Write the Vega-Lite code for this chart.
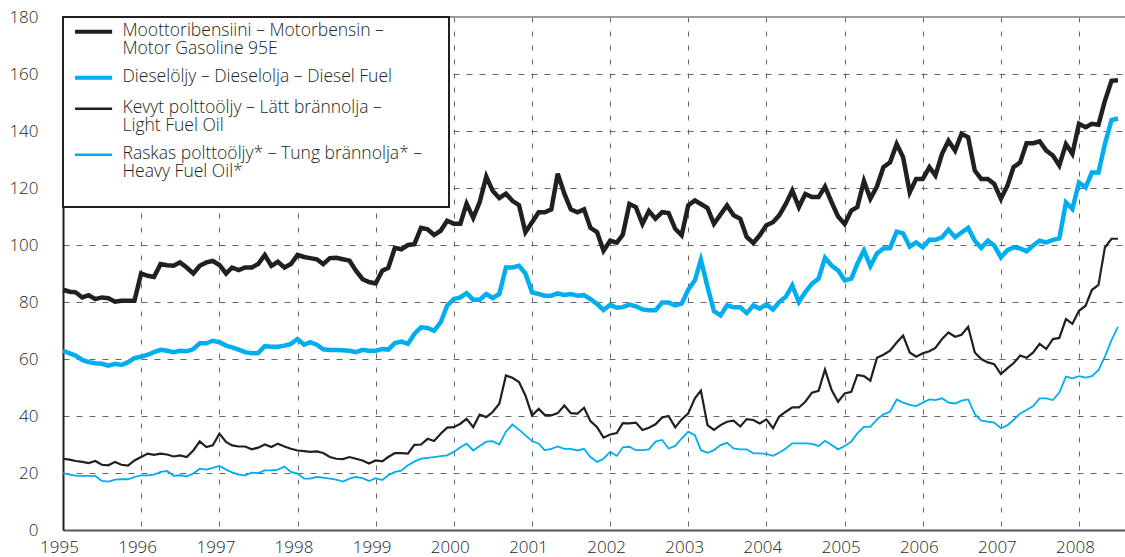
{
"$schema": "https://vega.github.io/schema/vega-lite/v6.json",
"width": 1062, "height": 513,
"autosize": {"type": "none"},
"padding": {"left": 63, "top": 17, "right": 0, "bottom": 27},
"background": "white",
"config": {"view": {"stroke": null}, "font": "Open Sans", "legend": {"strokeWidth": 2}},
"data": {"values": [
{"date":"1995-01","gasoline":84.3,"diesel":62.9,"lightFuelOil":25,"heavyFuelOil":20},
{"date":"1995-02","gasoline":83.6,"diesel":62,"lightFuelOil":24.7,"heavyFuelOil":19.4},
{"date":"1995-03","gasoline":83.4,"diesel":61.2,"lightFuelOil":24.2,"heavyFuelOil":19.1},
{"date":"1995-04","gasoline":81.6,"diesel":59.7,"lightFuelOil":23.9,"heavyFuelOil":19},
{"date":"1995-05","gasoline":82.4,"diesel":58.9,"lightFuelOil":23.5,"heavyFuelOil":19},
{"date":"1995-06","gasoline":81,"diesel":58.5,"lightFuelOil":24.2,"heavyFuelOil":19},
{"date":"1995-07","gasoline":81.6,"diesel":58.3,"lightFuelOil":22.9,"heavyFuelOil":17.2},
{"date":"1995-08","gasoline":81.3,"diesel":57.7,"lightFuelOil":22.7,"heavyFuelOil":17},
{"date":"1995-09","gasoline":80.1,"diesel":58.3,"lightFuelOil":23.9,"heavyFuelOil":17.7},
{"date":"1995-10","gasoline":80.4,"diesel":57.9,"lightFuelOil":22.9,"heavyFuelOil":17.8},
{"date":"1995-11","gasoline":80.4,"diesel":58.9,"lightFuelOil":22.6,"heavyFuelOil":17.8},
{"date":"1995-12","gasoline":80.4,"diesel":60.3,"lightFuelOil":24.4,"heavyFuelOil":18.6},
{"date":"1996-01","gasoline":90,"diesel":60.8,"lightFuelOil":25.6,"heavyFuelOil":19.2},
{"date":"1996-02","gasoline":89.2,"diesel":61.5,"lightFuelOil":26.8,"heavyFuelOil":19.2},
{"date":"1996-03","gasoline":88.8,"diesel":62.4,"lightFuelOil":26.4,"heavyFuelOil":19.4},
{"date":"1996-04","gasoline":93.3,"diesel":63.2,"lightFuelOil":26.8,"heavyFuelOil":20.4},
{"date":"1996-05","gasoline":92.9,"diesel":62.9,"lightFuelOil":26.5,"heavyFuelOil":20.7},
{"date":"1996-06","gasoline":92.7,"diesel":62.4,"lightFuelOil":25.8,"heavyFuelOil":19},
{"date":"1996-07","gasoline":93.9,"diesel":62.9,"lightFuelOil":26.2,"heavyFuelOil":19.2},
{"date":"1996-08","gasoline":92.1,"diesel":62.7,"lightFuelOil":25.6,"heavyFuelOil":18.8},
{"date":"1996-09","gasoline":90,"diesel":63.5,"lightFuelOil":27.9,"heavyFuelOil":19.8},
{"date":"1996-10","gasoline":92.7,"diesel":65.5,"lightFuelOil":31.1,"heavyFuelOil":21.5},
{"date":"1996-11","gasoline":93.9,"diesel":65.5,"lightFuelOil":29.1,"heavyFuelOil":21.2},
{"date":"1996-12","gasoline":94.4,"diesel":66.4,"lightFuelOil":29.7,"heavyFuelOil":21.8},
{"date":"1997-01","gasoline":93,"diesel":65.9,"lightFuelOil":33.8,"heavyFuelOil":22.5},
{"date":"1997-02","gasoline":90,"diesel":64.7,"lightFuelOil":30.9,"heavyFuelOil":21.2},
{"date":"1997-03","gasoline":92.1,"diesel":64.1,"lightFuelOil":29.7,"heavyFuelOil":20.2},
{"date":"1997-04","gasoline":91.2,"diesel":63.3,"lightFuelOil":29.3,"heavyFuelOil":19.4},
{"date":"1997-05","gasoline":92.1,"diesel":62.4,"lightFuelOil":29.3,"heavyFuelOil":19.2},
{"date":"1997-06","gasoline":92.1,"diesel":62,"lightFuelOil":28.3,"heavyFuelOil":20.1},
{"date":"1997-07","gasoline":93.3,"diesel":62.1,"lightFuelOil":28.9,"heavyFuelOil":20},
{"date":"1997-08","gasoline":96.5,"diesel":64.5,"lightFuelOil":30,"heavyFuelOil":20.9},
{"date":"1997-09","gasoline":92.7,"diesel":64.3,"lightFuelOil":29.1,"heavyFuelOil":20.9},
{"date":"1997-10","gasoline":94.1,"diesel":64.3,"lightFuelOil":30.3,"heavyFuelOil":21.2},
{"date":"1997-11","gasoline":92.1,"diesel":64.7,"lightFuelOil":29.3,"heavyFuelOil":22.3},
{"date":"1997-12","gasoline":93.3,"diesel":65.3,"lightFuelOil":28.5,"heavyFuelOil":20.4},
{"date":"1998-01","gasoline":96.5,"diesel":67,"lightFuelOil":27.9,"heavyFuelOil":19.8},
{"date":"1998-02","gasoline":95.8,"diesel":65,"lightFuelOil":27.7,"heavyFuelOil":18},
{"date":"1998-03","gasoline":95.4,"diesel":65.9,"lightFuelOil":27.4,"heavyFuelOil":18},
{"date":"1998-04","gasoline":95,"diesel":65,"lightFuelOil":27.6,"heavyFuelOil":18.6},
{"date":"1998-05","gasoline":93.3,"diesel":63.4,"lightFuelOil":27,"heavyFuelOil":18.4},
{"date":"1998-06","gasoline":95.4,"diesel":63.2,"lightFuelOil":25.6,"heavyFuelOil":18},
{"date":"1998-07","gasoline":95.5,"diesel":63.2,"lightFuelOil":25,"heavyFuelOil":17.7},
{"date":"1998-08","gasoline":95,"diesel":63.1,"lightFuelOil":24.9,"heavyFuelOil":17},
{"date":"1998-09","gasoline":94.5,"diesel":62.9,"lightFuelOil":25.6,"heavyFuelOil":18},
{"date":"1998-10","gasoline":91,"diesel":62.4,"lightFuelOil":25,"heavyFuelOil":18.6},
{"date":"1998-11","gasoline":88,"diesel":63.2,"lightFuelOil":24.4,"heavyFuelOil":18.2},
{"date":"1998-12","gasoline":87,"diesel":62.9,"lightFuelOil":23.3,"heavyFuelOil":17.2},
{"date":"1999-01","gasoline":86.5,"diesel":62.9,"lightFuelOil":24.4,"heavyFuelOil":18.2},
{"date":"1999-02","gasoline":91,"diesel":63.5,"lightFuelOil":24.1,"heavyFuelOil":17.5},
{"date":"1999-03","gasoline":92,"diesel":63.3,"lightFuelOil":25.6,"heavyFuelOil":19.2},
{"date":"1999-04","gasoline":99,"diesel":65.6,"lightFuelOil":27,"heavyFuelOil":20.4},
{"date":"1999-05","gasoline":98.5,"diesel":66.1,"lightFuelOil":27,"heavyFuelOil":20.8},
{"date":"1999-06","gasoline":100,"diesel":65.3,"lightFuelOil":26.8,"heavyFuelOil":22.7},
{"date":"1999-07","gasoline":100.3,"diesel":68.8,"lightFuelOil":29.9,"heavyFuelOil":24},
{"date":"1999-08","gasoline":106,"diesel":71.1,"lightFuelOil":30,"heavyFuelOil":25},
{"date":"1999-09","gasoline":105.5,"diesel":70.9,"lightFuelOil":32,"heavyFuelOil":25.3},
{"date":"1999-10","gasoline":103.5,"diesel":69.9,"lightFuelOil":31.2,"heavyFuelOil":25.6},
{"date":"1999-11","gasoline":105,"diesel":72.9,"lightFuelOil":33.8,"heavyFuelOil":25.9},
{"date":"1999-12","gasoline":108.5,"diesel":78.7,"lightFuelOil":35.9,"heavyFuelOil":26.2},
{"date":"2000-01","gasoline":107.5,"diesel":81,"lightFuelOil":36.1,"heavyFuelOil":27.4},
{"date":"2000-02","gasoline":107.5,"diesel":81.6,"lightFuelOil":37.3,"heavyFuelOil":29},
{"date":"2000-03","gasoline":114.5,"diesel":83.1,"lightFuelOil":39,"heavyFuelOil":30.3},
{"date":"2000-04","gasoline":109.5,"diesel":80.8,"lightFuelOil":36.1,"heavyFuelOil":27.9},
{"date":"2000-05","gasoline":115,"diesel":80.8,"lightFuelOil":40.5,"heavyFuelOil":29.5},
{"date":"2000-06","gasoline":124,"diesel":82.8,"lightFuelOil":39.6,"heavyFuelOil":31},
{"date":"2000-07","gasoline":119,"diesel":81.4,"lightFuelOil":41.4,"heavyFuelOil":31.2},
{"date":"2000-08","gasoline":116.5,"diesel":82.8,"lightFuelOil":44.3,"heavyFuelOil":30},
{"date":"2000-09","gasoline":118,"diesel":92.1,"lightFuelOil":54.2,"heavyFuelOil":34.5},
{"date":"2000-10","gasoline":115.5,"diesel":92.1,"lightFuelOil":53.4,"heavyFuelOil":37},
{"date":"2000-11","gasoline":114,"diesel":92.7,"lightFuelOil":51.9,"heavyFuelOil":35.2},
{"date":"2000-12","gasoline":104.5,"diesel":90,"lightFuelOil":47.2,"heavyFuelOil":33.2},
{"date":"2001-01","gasoline":108,"diesel":83.4,"lightFuelOil":40.2,"heavyFuelOil":31.2},
{"date":"2001-02","gasoline":111.5,"diesel":82.8,"lightFuelOil":42.5,"heavyFuelOil":30.3},
{"date":"2001-03","gasoline":111.5,"diesel":82.2,"lightFuelOil":40.4,"heavyFuelOil":28},
{"date":"2001-04","gasoline":112.5,"diesel":82.2,"lightFuelOil":40.2,"heavyFuelOil":28.5},
{"date":"2001-05","gasoline":125,"diesel":83,"lightFuelOil":41,"heavyFuelOil":29.3},
{"date":"2001-06","gasoline":118,"diesel":82.5,"lightFuelOil":43.7,"heavyFuelOil":28.5},
{"date":"2001-07","gasoline":112.5,"diesel":82.8,"lightFuelOil":41,"heavyFuelOil":28.5},
{"date":"2001-08","gasoline":111.5,"diesel":82.2,"lightFuelOil":40.8,"heavyFuelOil":27.9},
{"date":"2001-09","gasoline":112.5,"diesel":82.4,"lightFuelOil":42.9,"heavyFuelOil":28.5},
{"date":"2001-10","gasoline":106,"diesel":81,"lightFuelOil":38.2,"heavyFuelOil":25.6},
{"date":"2001-11","gasoline":104.5,"diesel":79.3,"lightFuelOil":36.1,"heavyFuelOil":23.9},
{"date":"2001-12","gasoline":98,"diesel":77.2,"lightFuelOil":32.4,"heavyFuelOil":25},
{"date":"2002-01","gasoline":101.5,"diesel":79,"lightFuelOil":33.5,"heavyFuelOil":27.4},
{"date":"2002-02","gasoline":100.8,"diesel":78,"lightFuelOil":34,"heavyFuelOil":26},
{"date":"2002-03","gasoline":103.6,"diesel":78.2,"lightFuelOil":37.5,"heavyFuelOil":29},
{"date":"2002-04","gasoline":114.4,"diesel":79.1,"lightFuelOil":37.4,"heavyFuelOil":29.2},
{"date":"2002-05","gasoline":113.3,"diesel":78.5,"lightFuelOil":37.7,"heavyFuelOil":28},
{"date":"2002-06","gasoline":107.4,"diesel":77.4,"lightFuelOil":35.1,"heavyFuelOil":28},
{"date":"2002-07","gasoline":111.9,"diesel":77.1,"lightFuelOil":35.9,"heavyFuelOil":28.3},
{"date":"2002-08","gasoline":109.2,"diesel":77.1,"lightFuelOil":37.1,"heavyFuelOil":31},
{"date":"2002-09","gasoline":111.5,"diesel":79.8,"lightFuelOil":39.5,"heavyFuelOil":31.6},
{"date":"2002-10","gasoline":111.2,"diesel":79.8,"lightFuelOil":40,"heavyFuelOil":28.6},
{"date":"2002-11","gasoline":105.7,"diesel":78.8,"lightFuelOil":36,"heavyFuelOil":29.5},
{"date":"2002-12","gasoline":103.4,"diesel":79.4,"lightFuelOil":38.8,"heavyFuelOil":32.1},
{"date":"2003-01","gasoline":113.9,"diesel":84.3,"lightFuelOil":40.9,"heavyFuelOil":34.5},
{"date":"2003-02","gasoline":115.6,"diesel":87.6,"lightFuelOil":46.2,"heavyFuelOil":33.3},
{"date":"2003-03","gasoline":114.4,"diesel":94.8,"lightFuelOil":48.9,"heavyFuelOil":28},
{"date":"2003-04","gasoline":113,"diesel":85.3,"lightFuelOil":36.8,"heavyFuelOil":27.1},
{"date":"2003-05","gasoline":107.4,"diesel":76.8,"lightFuelOil":35.1,"heavyFuelOil":28},
{"date":"2003-06","gasoline":110.7,"diesel":75.3,"lightFuelOil":36.8,"heavyFuelOil":29.8},
{"date":"2003-07","gasoline":113.9,"diesel":78.8,"lightFuelOil":38,"heavyFuelOil":30.6},
{"date":"2003-08","gasoline":110.4,"diesel":78.2,"lightFuelOil":38.4,"heavyFuelOil":28.6},
{"date":"2003-09","gasoline":109.2,"diesel":78.2,"lightFuelOil":36.3,"heavyFuelOil":28.3},
{"date":"2003-10","gasoline":102.8,"diesel":76.1,"lightFuelOil":38.9,"heavyFuelOil":28.3},
{"date":"2003-11","gasoline":100.7,"diesel":78.8,"lightFuelOil":38.6,"heavyFuelOil":26.9},
{"date":"2003-12","gasoline":103.4,"diesel":77.7,"lightFuelOil":37.4,"heavyFuelOil":26.9},
{"date":"2004-01","gasoline":106.9,"diesel":79.2,"lightFuelOil":38.8,"heavyFuelOil":26.7},
{"date":"2004-02","gasoline":108,"diesel":77.3,"lightFuelOil":35.7,"heavyFuelOil":26},
{"date":"2004-03","gasoline":110.4,"diesel":80,"lightFuelOil":39.8,"heavyFuelOil":27.1},
{"date":"2004-04","gasoline":114.4,"diesel":81.8,"lightFuelOil":41.5,"heavyFuelOil":28.6},
{"date":"2004-05","gasoline":119.1,"diesel":85.8,"lightFuelOil":43,"heavyFuelOil":30.4},
{"date":"2004-06","gasoline":113.3,"diesel":80,"lightFuelOil":43,"heavyFuelOil":30.4},
{"date":"2004-07","gasoline":117.9,"diesel":83.5,"lightFuelOil":45,"heavyFuelOil":30.4},
{"date":"2004-08","gasoline":116.8,"diesel":86.4,"lightFuelOil":48.2,"heavyFuelOil":30.2},
{"date":"2004-09","gasoline":116.8,"diesel":88.2,"lightFuelOil":48.8,"heavyFuelOil":29.5},
{"date":"2004-10","gasoline":120.5,"diesel":95.5,"lightFuelOil":56.3,"heavyFuelOil":31.3},
{"date":"2004-11","gasoline":115,"diesel":92.8,"lightFuelOil":49.1,"heavyFuelOil":29.8},
{"date":"2004-12","gasoline":110,"diesel":91.1,"lightFuelOil":45,"heavyFuelOil":28.3},
{"date":"2005-01","gasoline":107.4,"diesel":87.6,"lightFuelOil":47.9,"heavyFuelOil":29.5},
{"date":"2005-02","gasoline":112.1,"diesel":88.2,"lightFuelOil":48.5,"heavyFuelOil":31},
{"date":"2005-03","gasoline":113.3,"diesel":93.4,"lightFuelOil":54.4,"heavyFuelOil":33.9},
{"date":"2005-04","gasoline":122.4,"diesel":98.1,"lightFuelOil":54,"heavyFuelOil":36.2},
{"date":"2005-05","gasoline":116.2,"diesel":92.6,"lightFuelOil":52.4,"heavyFuelOil":36.2},
{"date":"2005-06","gasoline":120.6,"diesel":97,"lightFuelOil":60.4,"heavyFuelOil":38.8},
{"date":"2005-07","gasoline":127.3,"diesel":98.8,"lightFuelOil":61.5,"heavyFuelOil":40.6},
{"date":"2005-08","gasoline":129,"diesel":98.9,"lightFuelOil":62.9,"heavyFuelOil":41.5},
{"date":"2005-09","gasoline":135.4,"diesel":104.7,"lightFuelOil":65.8,"heavyFuelOil":45.8},
{"date":"2005-10","gasoline":130.8,"diesel":104.1,"lightFuelOil":68.2,"heavyFuelOil":44.7},
{"date":"2005-11","gasoline":118.5,"diesel":99.4,"lightFuelOil":62.3,"heavyFuelOil":43.9},
{"date":"2005-12","gasoline":123.2,"diesel":100.9,"lightFuelOil":60.8,"heavyFuelOil":43.5},
{"date":"2006-01","gasoline":123.2,"diesel":99.2,"lightFuelOil":62,"heavyFuelOil":44.7},
{"date":"2006-02","gasoline":127.3,"diesel":101.8,"lightFuelOil":62.7,"heavyFuelOil":45.8},
{"date":"2006-03","gasoline":124.4,"diesel":101.8,"lightFuelOil":63.9,"heavyFuelOil":45.6},
{"date":"2006-04","gasoline":132,"diesel":102.7,"lightFuelOil":67,"heavyFuelOil":46.2},
{"date":"2006-05","gasoline":136.6,"diesel":105.4,"lightFuelOil":69.3,"heavyFuelOil":44.7},
{"date":"2006-06","gasoline":133.1,"diesel":102.7,"lightFuelOil":67.8,"heavyFuelOil":44.4},
{"date":"2006-07","gasoline":139,"diesel":104.4,"lightFuelOil":68.5,"heavyFuelOil":45.4},
{"date":"2006-08","gasoline":137.8,"diesel":106,"lightFuelOil":71.3,"heavyFuelOil":45.8},
{"date":"2006-09","gasoline":126.1,"diesel":101.5,"lightFuelOil":62.3,"heavyFuelOil":40.7},
{"date":"2006-10","gasoline":123.2,"diesel":99,"lightFuelOil":60,"heavyFuelOil":38.4},
{"date":"2006-11","gasoline":123.2,"diesel":101.5,"lightFuelOil":58.8,"heavyFuelOil":38},
{"date":"2006-12","gasoline":121.4,"diesel":99.8,"lightFuelOil":58.2,"heavyFuelOil":37.7},
{"date":"2007-01","gasoline":116.2,"diesel":95.7,"lightFuelOil":54.7,"heavyFuelOil":35.7},
{"date":"2007-02","gasoline":120.9,"diesel":98.2,"lightFuelOil":56.8,"heavyFuelOil":36.8},
{"date":"2007-03","gasoline":127.3,"diesel":99.2,"lightFuelOil":58.5,"heavyFuelOil":38.6},
{"date":"2007-04","gasoline":129,"diesel":98.8,"lightFuelOil":61.2,"heavyFuelOil":40.9},
{"date":"2007-05","gasoline":135.7,"diesel":97.8,"lightFuelOil":60.4,"heavyFuelOil":42.1},
{"date":"2007-06","gasoline":135.7,"diesel":99.8,"lightFuelOil":62.3,"heavyFuelOil":43.5},
{"date":"2007-07","gasoline":136.4,"diesel":101.5,"lightFuelOil":65.3,"heavyFuelOil":46.2},
{"date":"2007-08","gasoline":133.1,"diesel":100.9,"lightFuelOil":63.5,"heavyFuelOil":46.2},
{"date":"2007-09","gasoline":131.4,"diesel":101.8,"lightFuelOil":67,"heavyFuelOil":45.6},
{"date":"2007-10","gasoline":127.9,"diesel":102.3,"lightFuelOil":67.4,"heavyFuelOil":48.2},
{"date":"2007-11","gasoline":135.4,"diesel":114.9,"lightFuelOil":74,"heavyFuelOil":53.8},
{"date":"2007-12","gasoline":132,"diesel":112.6,"lightFuelOil":72.3,"heavyFuelOil":53.2},
{"date":"2008-01","gasoline":142.5,"diesel":121.9,"lightFuelOil":76.9,"heavyFuelOil":54},
{"date":"2008-02","gasoline":141.3,"diesel":120.2,"lightFuelOil":78.7,"heavyFuelOil":53.5},
{"date":"2008-03","gasoline":142.5,"diesel":125.4,"lightFuelOil":84.2,"heavyFuelOil":54},
{"date":"2008-04","gasoline":142.2,"diesel":125.4,"lightFuelOil":86,"heavyFuelOil":56.1},
{"date":"2008-05","gasoline":150.6,"diesel":135.4,"lightFuelOil":99.1,"heavyFuelOil":60.8},
{"date":"2008-06","gasoline":157.6,"diesel":143.8,"lightFuelOil":102.2,"heavyFuelOil":66.6},
{"date":"2008-07","gasoline":157.8,"diesel":144.4,"lightFuelOil":102.2,"heavyFuelOil":71.3}
]},
"layer": [
{"mark": {"type": "rule", "color": "#9a9a9a", "strokeWidth": 2}, "encoding": {"y": {"datum": 180, "type": "quantitative"}}},
{
"transform": [{"fold": ["gasoline", "diesel", "lightFuelOil", "heavyFuelOil"], "as": ["series", "value"]}],
"mark": {"type": "line", "strokeJoin": "miter", "strokeMiterLimit": 4},
"encoding": {
"x": {"field": "date", "type": "temporal",
 "scale": {"type": "utc", "domain": [{"year": 1995, "month": 1, "date": 1, "utc": true}, {"year": 2008, "month": 8, "date": 3, "utc": true}]},
 "axis": {"title": null, "values": [{"year":1995,"utc":true},{"year":1996,"utc":true},{"year":1997,"utc":true},{"year":1998,"utc":true},{"year":1999,"utc":true},{"year":2000,"utc":true},{"year":2001,"utc":true},{"year":2002,"utc":true},{"year":2003,"utc":true},{"year":2004,"utc":true},{"year":2005,"utc":true},{"year":2006,"utc":true},{"year":2007,"utc":true},{"year":2008,"utc":true}],
  "format": "%Y", "labelFontSize": 17, "labelFontWeight": 300, "labelColor": "#231f20", "ticks": false, "labelPadding": 9, "labelOffset": -4, "labelFlush": false, "labelOverlap": false,
  "domainColor": "#555555", "domainWidth": 2, "grid": true, "gridColor": "#666666", "gridDash": [5, 9], "gridWidth": 1}},
"y": {"field": "value", "type": "quantitative",
 "scale": {"domain": [0, 180], "nice": false},
 "axis": {"title": null, "values": [0,20,40,60,80,100,120,140,160,180], "labelFontSize": 17, "labelFontWeight": 300, "labelColor": "#231f20", "ticks": false, "labelPadding": 25,
  "domainColor": "#231f20", "domainWidth": 2, "grid": true, "gridColor": "#666666", "gridDash": [6, 7], "gridWidth": 1}},
"color": {"field": "series", "type": "nominal",
 "scale": {"domain": ["gasoline", "diesel", "lightFuelOil", "heavyFuelOil"], "range": ["#231f20", "#00aeef", "#231f20", "#00aeef"]},
 "legend": {"orient": "none", "legendX": 0, "legendY": 0, "title": null,
  "symbolType": "M-4.9,-4.3L3.1,-4.3", "symbolSize": 86, "labelFontSize": 17.5, "labelFontWeight": 300, "labelColor": "#231f20", "labelLimit": 500,
  "labelExpr": "datum.value == 'gasoline' ? ['Moottoribensiini – Motorbensin –', 'Motor Gasoline 95E'] : datum.value == 'diesel' ? 'Dieselöljy – Dieselolja – Diesel Fuel' : datum.value == 'lightFuelOil' ? ['Kevyt polttoöljy – Lätt brännolja –', 'Light Fuel Oil'] : ['Raskas polttoöljy* – Tung brännolja* –', 'Heavy Fuel Oil*']",
  "strokeColor": "#231f20", "fillColor": "white", "padding": 26, "rowPadding": 9, "labelOffset": 16, "labelBaseline": "top",
  "encode": {
   "symbols": {"update": {"strokeWidth": {"signal": "datum.value == 'gasoline' || datum.value == 'diesel' ? 4 : 2.5"}}},
   "labels": {"update": {"dy": {"value": -30}, "lineHeight": {"value": 18}}}
  }}},
"strokeWidth": {"condition": [{"test": "datum.series == 'gasoline' || datum.series == 'diesel'", "value": 4.5}, {"test": "datum.series == 'lightFuelOil'", "value": 2.2}], "value": 1.8}
}
}
]
}
